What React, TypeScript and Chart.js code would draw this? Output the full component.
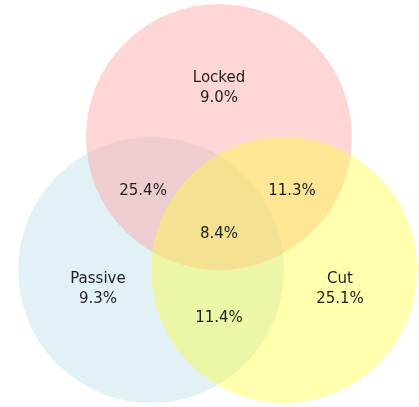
import React, { useEffect, useRef } from "react";
import { Chart, registerables } from "chart.js";

Chart.register(...registerables);

// Sets (drawn bottom to top: Passive, Locked, Cut)
const setNames = ["Passive", "Locked", "Cut"];
const setShares = ["9.3%", "9.0%", "25.1%"];
const setColors = [
  "rgba(173,216,230,0.36)",
  "rgba(255,153,153,0.4)",
  "rgba(255,255,51,0.4)",
];
// circle centres and radii in diagram units
const circleX = [-0.51, 0, 0.49];
const circleY = [-0.5, 0.5, -0.5];
const circleR = [1, 1, 1];

// set-only label anchors (diagram units)
const setLabelX = [-0.91, 0, 0.91];
const setLabelY = [-0.645, 0.87, -0.645];

// overlaps
const overlapNames = ["Locked & Passive", "Locked & Cut", "All three", "Passive & Cut"];
const overlapShares = ["25.4%", "11.3%", "8.4%", "11.4%"];
const overlapX = [-0.571, 0.549, 0, 0];
const overlapY = [0.096, 0.096, -0.233, -0.865];

const X_MIN = -1.6466;
const X_MAX = 1.5038;
const Y_MIN = -1.53;
const Y_MAX = 1.53;

export default function App() {
  const ref = useRef<HTMLCanvasElement | null>(null);

  useEffect(() => {
    if (!ref.current) return;

    const labelPlugin = {
      id: "vennLabels",
      afterDatasetsDraw(chart: any) {
        const ctx = chart.ctx;
        const xs = chart.scales.x;
        const ys = chart.scales.y;
        ctx.save();
        ctx.fillStyle = "#1e1e1e";
        ctx.font = '15px "DejaVu Sans"';
        ctx.textAlign = "center";
        ctx.textBaseline = "middle";
        setNames.forEach((name, i) => {
          const px = xs.getPixelForValue(setLabelX[i]);
          const py = ys.getPixelForValue(setLabelY[i]);
          ctx.fillText(name, px, py - 10);
          ctx.fillText(setShares[i], px, py + 10);
        });
        overlapShares.forEach((v, i) => {
          const px = xs.getPixelForValue(overlapX[i]);
          const py = ys.getPixelForValue(overlapY[i]);
          ctx.fillText(v, px, py);
        });
        ctx.restore();
      },
    };

    const radiusFor = (c: any) => {
      const xs = c.chart.scales.x;
      const r = circleR[c.dataIndex] ?? 1;
      return Math.abs(xs.getPixelForValue(r) - xs.getPixelForValue(0));
    };

    const chart = new Chart(ref.current, {
      type: "scatter",
      data: {
        labels: setNames,
        datasets: [
          {
            label: "Sets",
            data: circleX.map((x, i) => ({ x, y: circleY[i] })),
            backgroundColor: setColors,
            borderWidth: 0,
            borderColor: "rgba(0,0,0,0)",
            pointRadius: radiusFor,
            pointHoverRadius: radiusFor,
            clip: false,
          } as any,
        ],
      },
      options: {
        responsive: false,
        animation: false,
        events: [],
        layout: { padding: 0 },
        plugins: {
          legend: { display: false },
          tooltip: { enabled: false },
          title: { display: false },
        },
        scales: {
          x: { type: "linear", min: X_MIN, max: X_MAX, display: false },
          y: { type: "linear", min: Y_MIN, max: Y_MAX, display: false },
        },
      },
      plugins: [labelPlugin],
    });

    return () => chart.destroy();
  }, []);

  return (
    <div style={{ position: "fixed", left: 0, top: 0, width: 419, height: 407, background: "#ffffff" }}>
      <canvas ref={ref} width={419} height={407} style={{ display: "block", width: 419, height: 407 }} />
    </div>
  );
}
